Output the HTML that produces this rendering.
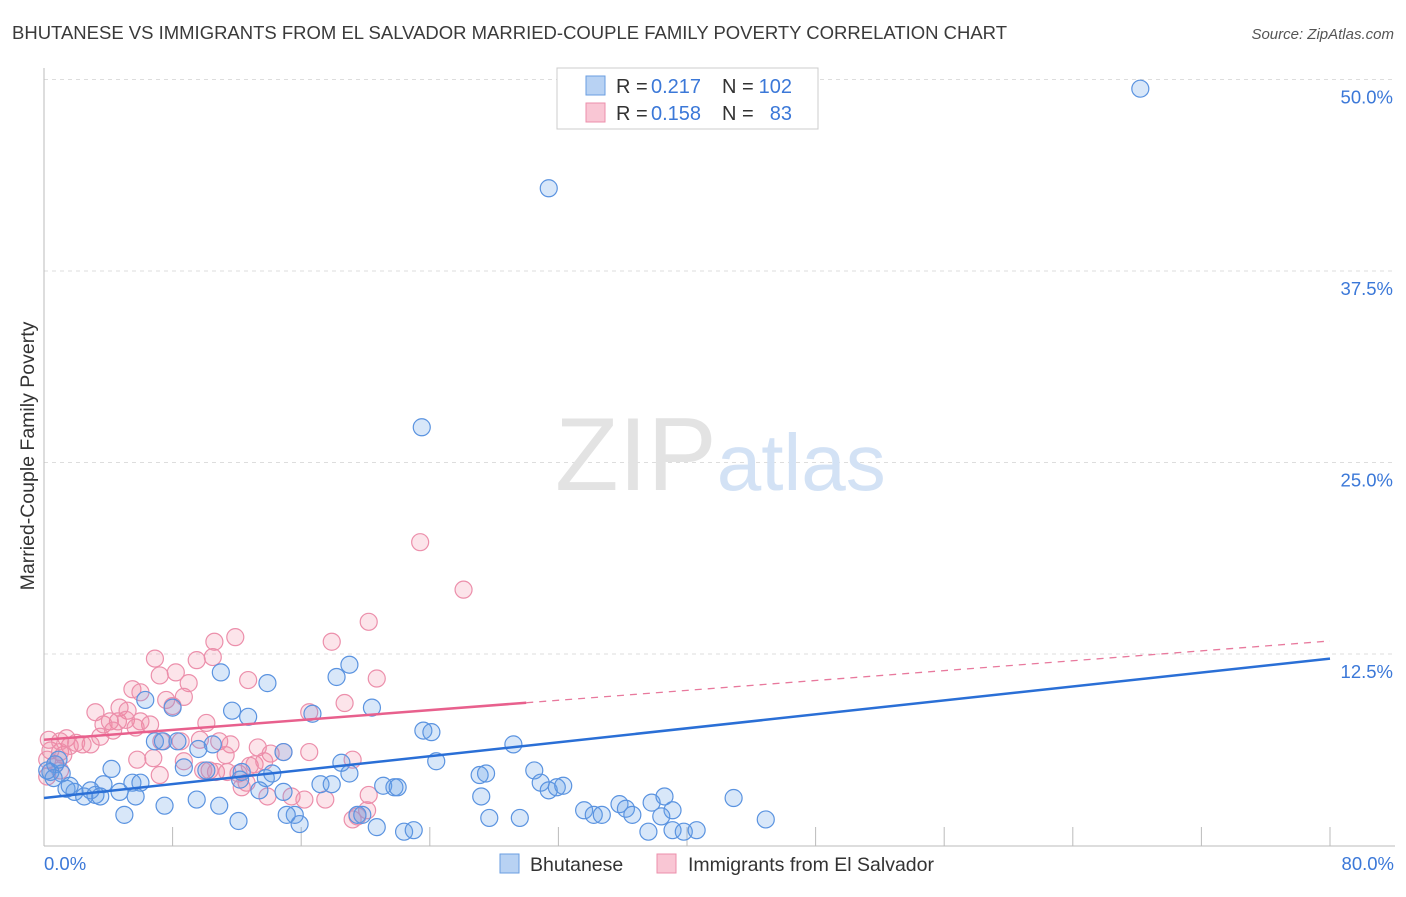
<!DOCTYPE html>
<html><head><meta charset="utf-8"><style>
body{margin:0;background:#fff;font-family:"Liberation Sans",Arial,sans-serif;}
svg text{font-family:"Liberation Sans",Arial,sans-serif;}
</style></head><body>
<svg id="chart" width="1406" height="892" xmlns="http://www.w3.org/2000/svg">
<text x="12" y="39" font-size="18.5" fill="#3a3a3a" textLength="995" lengthAdjust="spacingAndGlyphs">BHUTANESE VS IMMIGRANTS FROM EL SALVADOR MARRIED-COUPLE FAMILY POVERTY CORRELATION CHART</text>
<text x="1394" y="39" font-size="15" fill="#555" font-style="italic" text-anchor="end">Source: ZipAtlas.com</text>
<g id="grid"></g>
<text x="555" y="490" font-size="104" fill="#e3e3e3" font-family="Liberation Serif,serif">ZIP<tspan fill="#d3e2f5" font-family="Liberation Sans,sans-serif" font-size="80">atlas</tspan></text>
<text transform="translate(34,456) rotate(-90)" font-size="19.5" fill="#333" text-anchor="middle">Married-Couple Family Poverty</text>
<g id="marks"></g>
<g>
<rect x="557" y="68" width="261" height="61" fill="#fff" stroke="#ccc"/>
<rect x="586" y="76" width="19" height="19" fill="#b8d2f3" stroke="#6a9ee0"/>
<text x="616" y="93" font-size="20" fill="#333">R =</text>
<text x="651" y="93" font-size="20" fill="#3b78d8">0.217</text>
<text x="722" y="93" font-size="20" fill="#333">N =</text>
<text x="792" y="93" font-size="20" fill="#3b78d8" text-anchor="end">102</text>
<rect x="586" y="103" width="19" height="19" fill="#f9c6d4" stroke="#ec8fab"/>
<text x="616" y="120" font-size="20" fill="#333">R =</text>
<text x="651" y="120" font-size="20" fill="#3b78d8">0.158</text>
<text x="722" y="120" font-size="20" fill="#333">N =</text>
<text x="792" y="120" font-size="20" fill="#3b78d8" text-anchor="end">83</text>
</g>
<g>
<rect x="500" y="854" width="19" height="19" fill="#b8d2f3" stroke="#6a9ee0"/>
<text x="530" y="871" font-size="19.5" fill="#333">Bhutanese</text>
<rect x="657" y="854" width="19" height="19" fill="#f9c6d4" stroke="#ec8fab"/>
<text x="688" y="871" font-size="19.5" fill="#333">Immigrants from El Salvador</text>
</g>
</svg>
<script>
const blueX=[68.2,31.4,23.5,19.0,18.2,11.0,13.9,8.0,11.7,12.7,20.4,23.6,24.1,29.2,24.4,6.9,7.4,8.3,10.5,9.6,14.9,16.7,8.7,10.1,12.3,13.8,14.2,19.0,18.5,17.2,17.9,21.1,21.8,22.0,27.1,27.5,30.5,30.9,31.4,31.9,32.3,27.2,4.2,5.5,6.0,3.7,1.4,1.9,2.5,3.2,2.9,4.7,5.7,7.5,9.5,10.9,12.2,13.4,14.9,15.6,15.1,15.9,12.1,5.0,19.5,19.8,20.7,22.4,23.0,27.7,29.6,33.6,34.2,34.7,35.8,36.2,36.6,37.8,38.6,39.1,38.4,37.6,39.1,39.8,40.6,42.9,44.9,0.7,1.1,0.4,0.6,0.9,1.6,0.2,3.5,6.3];
const blueY=[49.4,42.9,27.3,11.8,11.0,11.3,10.6,9.0,8.8,8.4,9.0,7.5,7.4,6.6,5.5,6.8,6.8,6.8,6.6,6.3,6.1,8.6,5.1,4.9,4.8,4.4,4.7,4.7,5.4,4.0,4.0,3.9,3.8,3.8,4.6,4.7,4.9,4.1,3.6,3.8,3.9,3.2,5.0,4.1,4.1,4.0,3.7,3.5,3.2,3.3,3.6,3.5,3.2,2.6,3.0,2.6,4.3,3.6,3.5,2.0,2.0,1.4,1.6,2.0,2.0,2.0,1.2,0.9,1.0,1.8,1.8,2.3,2.0,2.0,2.7,2.4,2.0,2.8,3.2,2.3,1.9,0.9,1.0,0.9,1.0,3.1,1.7,5.3,4.7,4.8,4.4,5.6,3.9,4.9,3.2,9.5];
const pinkX=[23.4,26.1,20.2,17.9,11.9,10.6,6.9,10.5,9.5,8.2,7.2,9.0,12.7,20.7,5.5,6.0,4.7,5.2,7.6,8.0,10.1,8.7,16.5,18.7,6.6,4.6,5.1,5.7,3.2,3.7,4.1,4.3,3.5,2.9,2.4,1.6,1.4,2.0,1.0,0.4,1.2,0.2,0.7,0.3,1.0,8.5,9.7,11.6,13.3,14.1,14.9,16.5,5.8,6.8,8.7,10.3,10.7,11.4,12.1,12.8,13.1,13.7,12.6,12.3,13.9,15.4,16.2,17.5,19.2,20.2,20.1,19.2,19.5,7.2,6.0,0.2,7.3,10.9,9.9,11.3,1.0];
const pinkY=[19.8,16.7,14.6,13.3,13.6,13.3,12.2,12.3,12.1,11.3,11.1,10.6,10.8,10.9,10.2,10.0,9.0,8.8,9.5,9.1,8.0,9.7,8.7,9.3,7.9,8.1,8.2,7.7,8.7,7.9,8.1,7.5,7.1,6.6,6.6,6.5,7.0,6.7,6.1,6.2,5.9,5.6,5.3,6.9,6.8,6.8,6.9,6.6,6.4,6.0,6.1,6.1,5.6,5.7,5.5,4.9,4.8,4.8,4.7,5.2,5.3,5.5,4.1,3.8,3.2,3.2,3.0,3.0,5.6,3.3,2.3,1.7,1.9,4.6,8.1,4.5,6.8,6.8,4.9,5.9,4.9];
const blueTrend=[3.1,12.2];
const pinkTrend=[6.9,13.35];
const pinkSolidEnd=30.0;
const yTicks=[12.5,25.0,37.5,50.0];
const xTicks=[0,8,16,24,32,40,48,56,64,72,80];

const NS="http://www.w3.org/2000/svg";
const x0=44,x1=1330,yb=845.5,pxPer=191.5/12.5;
const X=v=>x0+(x1-x0)*v/80;
const Y=v=>yb-v*pxPer;
function mk(tag,attrs,parent){const e=document.createElementNS(NS,tag);for(const k in attrs)e.setAttribute(k,attrs[k]);parent.appendChild(e);return e;}
const grid=document.getElementById('grid'),marks=document.getElementById('marks');
yTicks.forEach(t=>{
 const l=mk('line',{x1:x0,x2:1395,y1:Y(t),y2:Y(t),stroke:'#ddd','stroke-dasharray':'4,4'},grid);
 
 
 const tx=mk('text',{x:1393,y:Y(t)+24,'font-size':18.5,fill:'#3b78d8','text-anchor':'end'},grid);
 tx.textContent=t.toFixed(1)+'%';
 
 
});
const ax=mk('line',{x1:x0,x2:x0,y1:68,y2:846,stroke:'#bbb'},grid);


const bx=mk('line',{x1:x0,x2:1395,y1:846,y2:846,stroke:'#bbb'},grid);


xTicks.forEach(t=>{
 const l=mk('line',{x1:X(t),x2:X(t),y1:827,y2:846,stroke:'#bbb'},grid);
 
 
});
[[0,'0.0%','start',44],[80,'80.0%','end',1394]].forEach(a=>{
 const tx=mk('text',{x:a[3],y:870,'font-size':18.5,fill:'#3b78d8','text-anchor':a[2]},grid);
 tx.textContent=a[1];
 
 
});
pinkX.forEach((v,i)=>{
 const c=mk('circle',{cx:X(v),cy:Y(pinkY[i]),r:8.5,fill:'rgba(240,130,160,0.22)',stroke:'#ec8fab','stroke-width':1.2},marks);
 
 
});
blueX.forEach((v,i)=>{
 const c=mk('circle',{cx:X(v),cy:Y(blueY[i]),r:8.5,fill:'rgba(100,160,230,0.25)',stroke:'#5a93e0','stroke-width':1.2},marks);
 
 
});
const pv=x=>pinkTrend[0]+(pinkTrend[1]-pinkTrend[0])*x/80;
const pd=mk('line',{x1:X(pinkSolidEnd),y1:Y(pv(pinkSolidEnd)),x2:X(80),y2:Y(pinkTrend[1]),stroke:'#e8799d','stroke-width':1.3,'stroke-dasharray':'7,6'},marks);


const ps=mk('line',{x1:X(0),y1:Y(pinkTrend[0]),x2:X(pinkSolidEnd),y2:Y(pv(pinkSolidEnd)),stroke:'#e8608d','stroke-width':2.5},marks);


const bt=mk('line',{x1:X(0),y1:Y(blueTrend[0]),x2:X(80),y2:Y(blueTrend[1]),stroke:'#2a6fd6','stroke-width':2.5},marks);


</script>
</body></html>
